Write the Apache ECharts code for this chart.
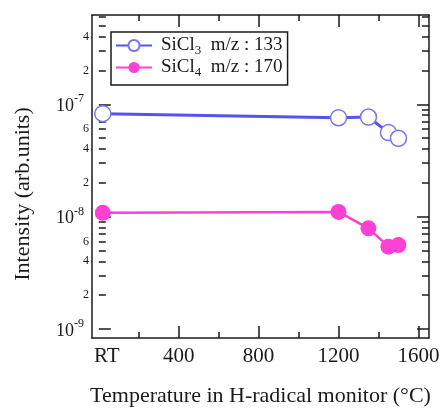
<!DOCTYPE html>
<html>
<head>
<meta charset="utf-8">
<script src="https://cdn.jsdelivr.net/npm/echarts@6/dist/echarts.min.js"></script>
<style>html,body{margin:0;padding:0;background:#fff}#c{width:441px;height:408px}</style>
</head>
<body>
<div id="c"></div>
<script>
// ---- data ----
var temperatures = [20, 1200, 1350, 1450, 1500];
var sicl3Values = [8.25e-8, 7.6e-8, 7.7e-8, 5.6e-8, 4.98e-8];
var sicl4Values = [1.08e-8, 1.1e-8, 7.87e-9, 5.4e-9, 5.58e-9];
var seriesNames = ['SiCl3  m/z : 133', 'SiCl4  m/z : 170'];
var legendParts = [['SiCl', '3', '  m/z : 133'], ['SiCl', '4', '  m/z : 170']];
var xTickLabelValues = [40, 400, 800, 1200, 1600];
var xTickLabelTexts = ['RT', '400', '800', '1200', '1600'];
var xMajorTicks = [400, 800, 1200, 1600];
var xMinorTicks = [200, 600, 1000, 1400];
var yDecades = [-9, -8, -7];
var yMinorMantissas = [2, 3, 4, 5, 6, 7, 8, 9];
var yMinorLabelMantissas = [2, 4, 6];
var xTitle = 'Temperature in H-radical monitor (°C)';
var yTitle = 'Intensity (arb.units)';

// ---- layout ----
var xMin = -34, xMax = 1653;
var yMin = 8.3e-10, yMax = 6.24e-7;
var lyMin = Math.log10(yMin), lyMax = Math.log10(yMax);
var FONT = "'Liberation Serif', 'Times New Roman', serif";
var INK = '#1a1a1a';

var yMajorLog = yDecades.slice();
var yMinorLog = [], yMinorLabelLog = [];
yDecades.forEach(function (d) {
  yMinorMantissas.forEach(function (m) {
    var v = d + Math.log10(m);
    if (v >= lyMin && v <= lyMax) yMinorLog.push(v);
  });
  yMinorLabelMantissas.forEach(function (m) {
    var v = d + Math.log10(m);
    if (v >= lyMin && v <= lyMax - 0.05) yMinorLabelLog.push(v);
  });
});

function tickAxisX(pos, ticks, len, showLine) {
  return {
    type: 'value', position: pos, min: xMin, max: xMax, gridIndex: 0,
    axisLine: {show: showLine, onZero: false, lineStyle: {color: INK, width: 1.5}},
    axisTick: {show: true, inside: true, length: len, customValues: ticks, lineStyle: {color: INK, width: 1.5}},
    axisLabel: {show: false}, splitLine: {show: false}
  };
}
function tickAxisY(pos, ticks, len, showLine) {
  return {
    type: 'value', position: pos, min: lyMin, max: lyMax, gridIndex: 0,
    axisLine: {show: showLine, onZero: false, lineStyle: {color: INK, width: 1.5}},
    axisTick: {show: true, inside: true, length: len, customValues: ticks, lineStyle: {color: INK, width: 1.5}},
    axisLabel: {show: false}, splitLine: {show: false}
  };
}

var xAxes = [
  {
    type: 'value', position: 'bottom', min: xMin, max: xMax,
    axisLine: {show: true, onZero: false, lineStyle: {color: INK, width: 1.5}},
    axisTick: {show: true, inside: true, length: 12, customValues: xMajorTicks, lineStyle: {color: INK, width: 1.5}},
    axisLabel: {
      show: true, customValues: xTickLabelValues, margin: 8,
      fontFamily: FONT, fontSize: 21, color: INK,
      formatter: function (v) { var i = xTickLabelValues.indexOf(v); return i >= 0 ? xTickLabelTexts[i] : ''; }
    },
    splitLine: {show: false},
    name: xTitle, nameLocation: 'middle', nameGap: 47,
    nameTextStyle: {fontFamily: FONT, fontSize: 22, color: INK}
  },
  tickAxisX('bottom', xMinorTicks, 6, false),
  tickAxisX('top', xMajorTicks, 12, true),
  tickAxisX('top', xMinorTicks, 6, false)
];

var yAxes = [
  {
    type: 'log', logBase: 10, position: 'left', min: yMin, max: yMax,
    axisLine: {show: true, onZero: false, lineStyle: {color: INK, width: 1.5}},
    axisTick: {show: false}, axisLabel: {show: false}, splitLine: {show: false}
  },
  {
    type: 'value', position: 'left', min: lyMin, max: lyMax,
    axisLine: {show: false},
    axisTick: {show: true, inside: true, length: 12, customValues: yMajorLog, lineStyle: {color: INK, width: 1.5}},
    axisLabel: {
      show: true, customValues: yMajorLog, margin: 8,
      formatter: function (v) { return '{b|10}{p|' + Math.round(v) + '}'; },
      rich: {
        b: {fontFamily: FONT, fontSize: 18, color: INK, lineHeight: 22, verticalAlign: 'bottom'},
        p: {fontFamily: FONT, fontSize: 12, color: INK, lineHeight: 22, verticalAlign: 'top'}
      }
    },
    splitLine: {show: false}
  },
  {
    type: 'value', position: 'left', min: lyMin, max: lyMax,
    axisLine: {show: false},
    axisTick: {show: true, inside: true, length: 7, customValues: yMinorLog, lineStyle: {color: INK, width: 1.5}},
    axisLabel: {
      show: true, customValues: yMinorLabelLog, margin: 3,
      fontFamily: FONT, fontSize: 12, color: INK,
      formatter: function (v) { return String(Math.round(Math.pow(10, v - Math.floor(v + 1e-9)))); }
    },
    splitLine: {show: false}
  },
  tickAxisY('right', yMajorLog, 12, true),
  tickAxisY('right', yMinorLog, 7, false)
];

function legendFmt(name) {
  var i = seriesNames.indexOf(name);
  var p = legendParts[i];
  return '{f|' + p[0] + '}{s|' + p[1] + '}{n|' + p[2] + '}';
}

var chart = echarts.init(document.getElementById('c'), null, {renderer: 'canvas'});
chart.setOption({
  animation: false,
  backgroundColor: '#ffffff',
  grid: {left: 92, right: 12, top: 15, bottom: 70, containLabel: false, outerBoundsMode: 'none'},
  xAxis: xAxes,
  yAxis: yAxes,
  legend: {
    show: true, orient: 'vertical', left: 111, top: 32,
    padding: [4, 5, 6, 4], itemGap: 1, itemWidth: 36, itemHeight: 14,
    borderColor: INK, borderWidth: 1.5, backgroundColor: '#fff',
    data: seriesNames,
    formatter: legendFmt,
    textStyle: {
      fontFamily: FONT, fontSize: 19, color: INK,
      rich: {
        f: {fontFamily: FONT, fontSize: 19, color: INK, lineHeight: 23, verticalAlign: 'middle', padding: [0, 0, 0, 4]},
        n: {fontFamily: FONT, fontSize: 19, color: INK, lineHeight: 23, verticalAlign: 'middle'},
        s: {fontFamily: FONT, fontSize: 13, color: INK, lineHeight: 23, verticalAlign: 'bottom'}
      }
    }
  },
  graphic: [{
    type: 'text', x: 23, y: 194, rotation: Math.PI / 2,
    style: {text: yTitle, fontFamily: FONT, fontSize: 22, fill: INK, align: 'center', verticalAlign: 'middle'}
  }],
  series: [
    {
      name: seriesNames[0], type: 'line', xAxisIndex: 0, yAxisIndex: 0,
      data: temperatures.map(function (t, i) { return [t, sicl3Values[i]]; }),
      symbol: 'circle', symbolSize: 16, showAllSymbol: true,
      lineStyle: {color: '#5555ee', width: 3},
      itemStyle: {color: '#ffffff', borderColor: '#7777ee', borderWidth: 1.5}
    },
    {
      name: seriesNames[1], type: 'line', xAxisIndex: 0, yAxisIndex: 0,
      data: temperatures.map(function (t, i) { return [t, sicl4Values[i]]; }),
      symbol: 'circle', symbolSize: 16, showAllSymbol: true,
      lineStyle: {color: '#ff40d4', width: 2.5},
      itemStyle: {color: '#ff40d4', borderWidth: 0}
    }
  ]
});
</script>
</body>
</html>
